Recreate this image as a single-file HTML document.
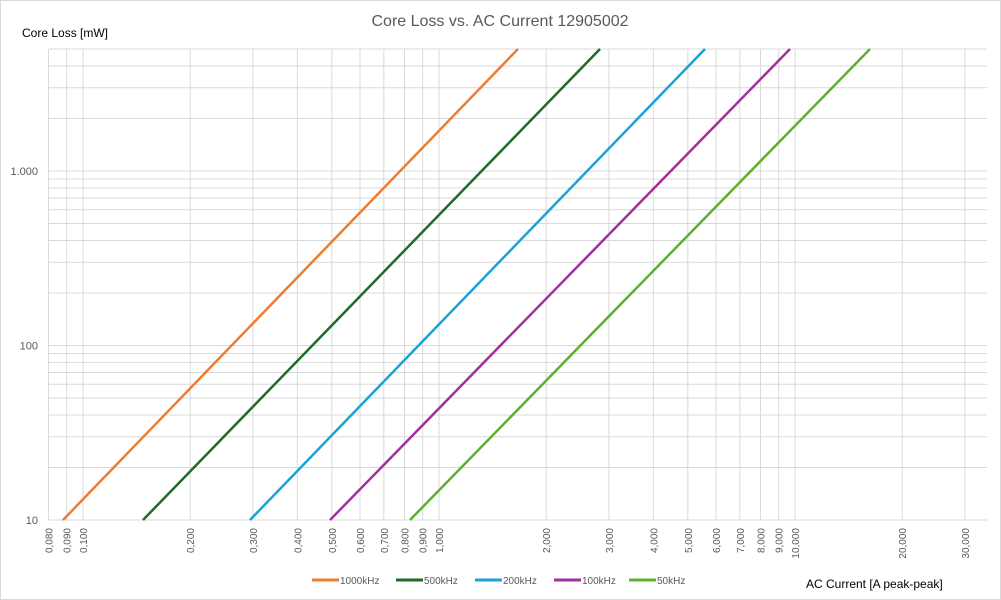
<!DOCTYPE html>
<html><head><meta charset="utf-8"><style>
body{margin:0;background:#fff;}
svg{display:block;font-family:"Liberation Sans",sans-serif;}
</style></head><body>
<svg id="s" width="1001" height="600" xmlns="http://www.w3.org/2000/svg"></svg>
<script>
const s=document.getElementById('s');
let h='<rect x="0.5" y="0.5" width="1000" height="599" fill="#fff" stroke="#d9d9d9"/>';
const L=49,R=987,T=49,B=520;
const X=v=>83+356*Math.log10(v/0.1);
const Y=v=>171-174.5*Math.log10(v/1000);
// horizontal grid
for(let d of [10,100,1000]){for(let k=1;k<=9;k++){const v=d*k;if(v<10||v>5000)continue;const y=Y(v);h+=`<line x1="${L}" x2="${R}" y1="${y}" y2="${y}" stroke="#d9d9d9" stroke-width="1"/>`;}}
// vertical grid + labels
const xs=[0.08,0.09,0.1,0.2,0.3,0.4,0.5,0.6,0.7,0.8,0.9,1,2,3,4,5,6,7,8,9,10,20,30];
for(const v of xs){const x=X(v);h+=`<line x1="${x}" x2="${x}" y1="${T}" y2="${B}" stroke="#d9d9d9"/>`;
const lab=v.toFixed(3).replace('.',',');
h+=`<text transform="translate(${x+4},${B+8}) rotate(-90)" text-anchor="end" font-size="10" fill="#595959">${v>=10?v.toFixed(3).replace('.',','):lab}</text>`;}
h+=`<line x1="${L}" x2="${R}" y1="${B}" y2="${B}" stroke="#d9d9d9"/>`;
h+=`<text x="38" y="${B+4}" text-anchor="end" font-size="11" fill="#595959">10</text>`;
h+=`<text x="38" y="${Y(100)+4}" text-anchor="end" font-size="11" fill="#595959">100</text>`;
h+=`<text x="38" y="${Y(1000)+4}" text-anchor="end" font-size="11" fill="#595959">1.000</text>`;
// series
const ser=[[63,518,'#ed7d31'],[143,600,'#1e6b2a'],[250,705,'#1aa3d6'],[330,790,'#a1309c'],[410,870,'#5cb030']];
for(const [a,b,c] of ser){h+=`<line x1="${a}" y1="${B}" x2="${b}" y2="${T}" stroke="${c}" stroke-width="2.5"/>`;}
h+='<text x="500" y="26" text-anchor="middle" font-size="16" fill="#595959">Core Loss vs. AC Current 12905002</text>';
h+='<text x="22" y="37" font-size="12" fill="#000">Core Loss [mW]</text>';
h+='<text x="806" y="588" font-size="12" fill="#000">AC Current [A peak-peak]</text>';
const lg=[['1000kHz','#ed7d31',312],['500kHz','#1e6b2a',396],['200kHz','#1aa3d6',475],['100kHz','#a1309c',554],['50kHz','#5cb030',629]];
for(const [t,c,x] of lg){h+=`<line x1="${x}" x2="${x+27}" y1="580" y2="580" stroke="${c}" stroke-width="3"/><text x="${x+28}" y="584" font-size="10" fill="#595959">${t}</text>`;}
s.innerHTML=h;
</script>
</body></html>
